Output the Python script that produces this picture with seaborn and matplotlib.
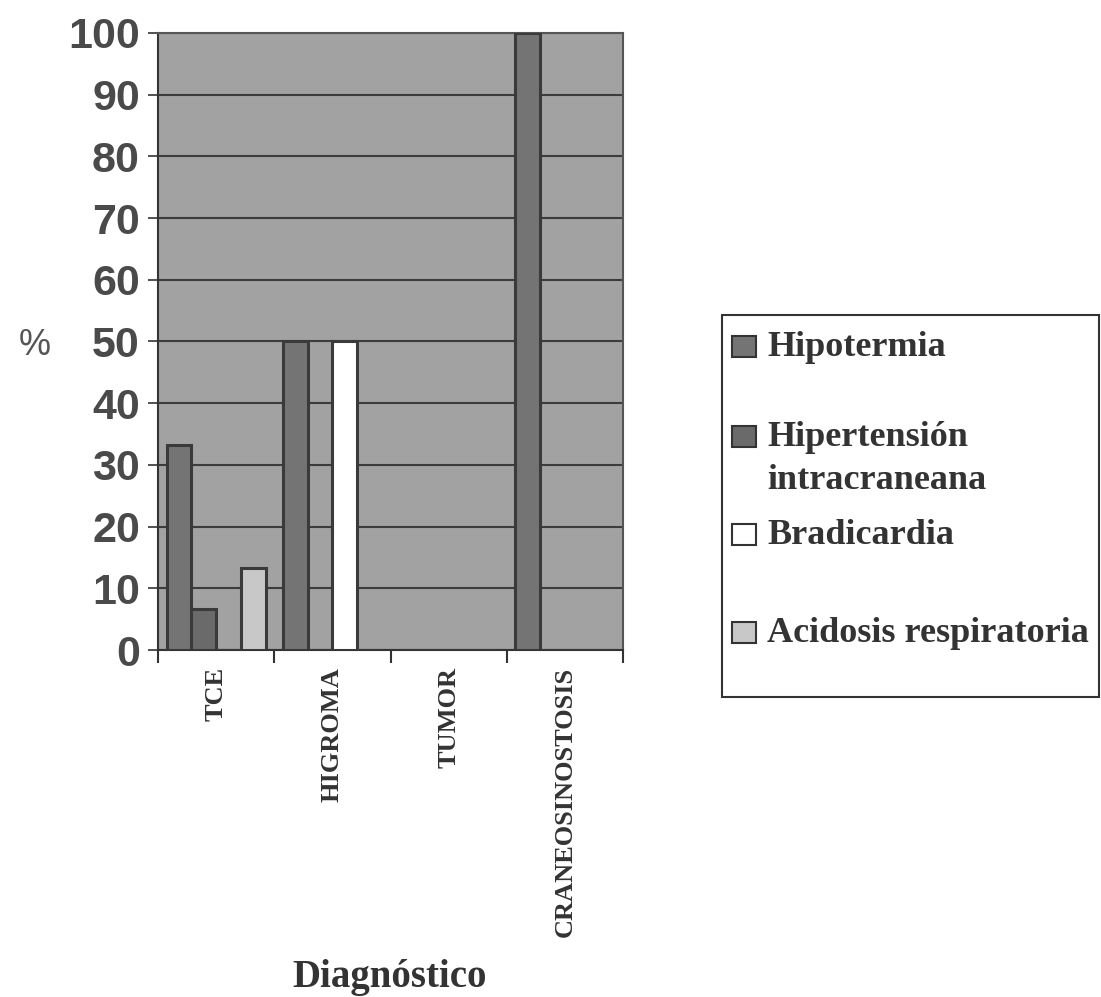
import matplotlib
matplotlib.use("Agg")
import matplotlib.pyplot as plt
from matplotlib.patches import Rectangle
import seaborn as sns
import pandas as pd

# ---- data ----
categories = ["TCE", "HIGROMA", "TUMOR", "CRANEOSINOSTOSIS"]
signos = ["Hipotermia", "Hipertensión intracraneana", "Bradicardia", "Acidosis respiratoria"]
hipotermia = [33.3, 50, 0, 100]
hipertension = [6.7, 0, 0, 0]
bradicardia = [0, 50, 0, 0]
acidosis = [13.3, 0, 0, 0]
y_ticks = [0, 10, 20, 30, 40, 50, 60, 70, 80, 90, 100]

colors = ["#747474", "#6a6a6a", "#ffffff", "#c8c8c8"]

rows = []
for s, vals in zip(signos, [hipotermia, hipertension, bradicardia, acidosis]):
    for c, v in zip(categories, vals):
        rows.append({"Diagnóstico": c, "Signo": s, "%": v})
df = pd.DataFrame(rows)

sns.set_style("white")
plt.rcParams["font.family"] = ["Liberation Sans", "DejaVu Sans"]

W, H = 1101, 997
fig = plt.figure(figsize=(W / 100, H / 100), dpi=100)
L, R, B, T = 158, 623, 650, 33
ax = fig.add_axes([L / W, 1 - B / H, (R - L) / W, (B - T) / H])
ax.set_facecolor("#a2a2a2")

sns.barplot(data=df, x="Diagnóstico", y="%", hue="Signo", order=categories,
            hue_order=signos, palette=colors, width=0.85, saturation=1,
            edgecolor="#3a3a3a", linewidth=2.2, ax=ax, legend=False, zorder=3)

ax.set_ylim(0, 100)
ax.set_xlim(-0.5, len(categories) - 0.5)
ax.set_yticks(y_ticks)
ax.set_yticklabels([str(t) for t in y_ticks], fontsize=31, fontweight="bold",
                   color="#4a4a4a", family=["Liberation Sans", "DejaVu Sans"])
ax.tick_params(axis="y", direction="out", length=7, width=1.2, color="#333333",
               pad=6, left=True)
ax.yaxis.grid(True, color="#3c3c3c", linewidth=1.5, zorder=0)
ax.set_axisbelow(True)

# category boundaries as major ticks, labels at centres as minor ticks
ax.set_xticks([i - 0.5 for i in range(len(categories) + 1)])
ax.set_xticklabels([])
ax.set_xticks(range(len(categories)), minor=True)
ax.set_xticklabels(categories, minor=True, rotation=90, fontsize=19,
                   fontweight="bold", color="#333333",
                   family=["Liberation Serif", "DejaVu Serif"])
ax.tick_params(axis="x", which="major", direction="out", length=9, width=1.5,
               color="#333333", bottom=True)
ax.tick_params(axis="x", which="minor", length=0, pad=12)
ax.set_xlabel("")
ax.set_ylabel("")

for side in ["left", "bottom"]:
    ax.spines[side].set_color("#333333")
    ax.spines[side].set_linewidth(1.5)
for side in ["top", "right"]:
    ax.spines[side].set_color("#555555")
    ax.spines[side].set_linewidth(1.5)

fig.text(35 / W, 1 - 345 / H, "%", fontsize=26, color="#555555",
         ha="center", va="center", family=["Liberation Sans", "DejaVu Sans"])
fig.text(390 / W, 1 - 977 / H, "Diagnóstico", fontsize=28, fontweight="bold",
         color="#333333", ha="center", va="center",
         family=["Liberation Serif", "DejaVu Serif"])

# legend box
fig.patches.append(Rectangle((722 / W, 1 - 697 / H), (1099 - 722) / W, (697 - 315) / H,
                             transform=fig.transFigure, facecolor="white",
                             edgecolor="#333333", linewidth=1.5, zorder=1))
leg_y = [347, 437, 535, 633]
leg_labels = ["Hipotermia", "Hipertensión", "Bradicardia", "Acidosis respiratoria"]
for yy, lab, col in zip(leg_y, leg_labels, colors):
    fig.patches.append(Rectangle((732 / W, 1 - (yy + 10) / H), 24 / W, 21 / H,
                                 transform=fig.transFigure, facecolor=col,
                                 edgecolor="#333333", linewidth=1.5, zorder=2))
    fig.text(767 / W, 1 - yy / H, lab, fontsize=26, fontweight="bold",
             color="#333333", ha="left", va="center",
             family=["Liberation Serif", "DejaVu Serif"], zorder=3)
fig.text(767 / W, 1 - 480 / H, "intracraneana", fontsize=26, fontweight="bold",
         color="#333333", ha="left", va="center",
         family=["Liberation Serif", "DejaVu Serif"], zorder=3)

fig.savefig("out.png", dpi=100, facecolor="white")
